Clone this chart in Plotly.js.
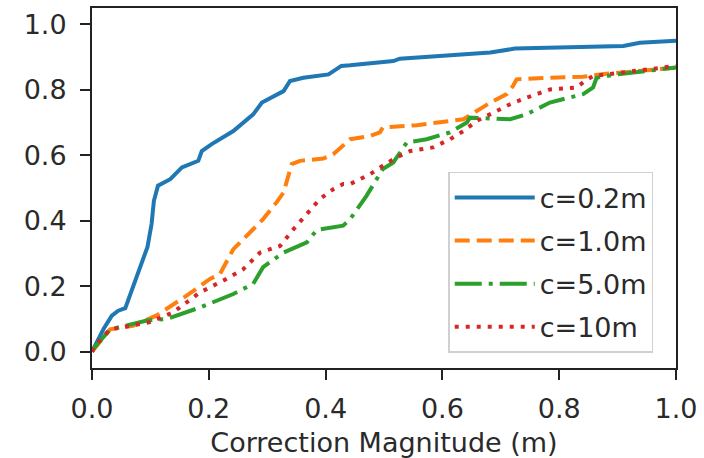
<!DOCTYPE html>
<html>
<head>
<meta charset="utf-8">
<script src="https://cdn.plot.ly/plotly-3.0.1.min.js"></script>
<style>html,body{margin:0;padding:0;background:#fff;}#chart{width:704px;height:458px;}</style>
</head>
<body>
<div id="chart"></div>
<script>
// Series names
const seriesNames = ["c=0.2m", "c=1.0m", "c=5.0m", "c=10m"];

// c=0.2m
const x02 = [0,0.008,0.02,0.034,0.045,0.057,0.068,0.078,0.088,0.095,0.102,0.106,0.113,0.134,0.154,0.182,0.188,0.205,0.242,0.276,0.291,0.328,0.339,0.362,0.405,0.427,0.442,0.516,0.527,0.682,0.724,0.910,0.938,1.0];
const y02 = [0,0.03,0.07,0.11,0.125,0.133,0.186,0.23,0.283,0.32,0.39,0.461,0.507,0.527,0.563,0.583,0.613,0.634,0.674,0.725,0.761,0.796,0.827,0.837,0.847,0.873,0.875,0.888,0.895,0.914,0.926,0.934,0.944,0.95];

// c=1.0m
const x10 = [0,0.014,0.031,0.07,0.11,0.162,0.202,0.219,0.242,0.276,0.293,0.316,0.328,0.342,0.356,0.396,0.413,0.442,0.476,0.493,0.498,0.556,0.636,0.682,0.710,0.721,0.727,0.784,0.841,0.870,1.0];
const y10 = [0,0.03,0.068,0.079,0.11,0.171,0.222,0.237,0.313,0.374,0.405,0.456,0.486,0.573,0.583,0.590,0.603,0.649,0.659,0.670,0.685,0.692,0.710,0.761,0.787,0.812,0.832,0.837,0.840,0.847,0.868];

// c=5.0m
const x50 = [0,0.002,0.031,0.059,0.094,0.128,0.145,0.185,0.242,0.276,0.293,0.328,0.368,0.385,0.430,0.442,0.470,0.498,0.516,0.527,0.539,0.573,0.613,0.642,0.647,0.716,0.744,0.784,0.841,0.858,0.864,0.898,1.0];
const y50 = [0,0.008,0.068,0.079,0.095,0.1,0.11,0.135,0.176,0.207,0.258,0.303,0.334,0.372,0.385,0.405,0.476,0.558,0.578,0.608,0.639,0.649,0.670,0.700,0.715,0.710,0.725,0.761,0.787,0.807,0.837,0.847,0.868];

// c=10m
const x100 = [0,0.006,0.031,0.07,0.099,0.139,0.185,0.230,0.259,0.288,0.322,0.345,0.368,0.390,0.413,0.430,0.442,0.476,0.498,0.521,0.545,0.584,0.613,0.636,0.659,0.687,0.716,0.744,0.784,0.830,0.844,0.858,1.0];
const y100 = [0,0.02,0.068,0.079,0.09,0.12,0.181,0.222,0.252,0.303,0.323,0.374,0.420,0.466,0.496,0.512,0.512,0.542,0.568,0.593,0.613,0.624,0.649,0.674,0.705,0.730,0.756,0.776,0.801,0.807,0.827,0.842,0.873];

// Axis ticks
const tickVals = [0, 0.2, 0.4, 0.6, 0.8, 1.0];
const tickText = ["0.0", "0.2", "0.4", "0.6", "0.8", "1.0"];

const xs = [x02, x10, x50, x100];
const ys = [y02, y10, y50, y100];
const colors = ["#1f77b4", "#ff7f0e", "#2ca02c", "#d62728"];
const dashes = ["solid", "15px,7px", "27px,7px,4px,7px", "4px,7px"];

const traces = seriesNames.map((n, i) => ({
  type: "scatter",
  mode: "lines",
  name: n,
  x: xs[i],
  y: ys[i],
  legendgroup: "g" + i,
  line: {color: colors[i], width: 4, dash: dashes[i]},
  hoverinfo: "x+y+name"
}));

const fontFam = "DejaVu Sans, sans-serif";
const textColor = "#2a2a2a";
const axisCommon = {
  showline: true, mirror: true, linecolor: "#222", linewidth: 2,
  ticks: "outside", ticklen: 10, tickwidth: 2, tickcolor: "#222",
  showgrid: false, zeroline: false,
  tickvals: tickVals, ticktext: tickText,
  tickfont: {family: fontFam, size: 27, color: textColor}
};

const layout = {
  width: 704, height: 458,
  margin: {l: 92, r: 28, t: 8, b: 90},
  paper_bgcolor: "#fff", plot_bgcolor: "#fff",
  showlegend: true,
  xaxis: Object.assign({}, axisCommon, {
    range: [0, 1],
    ticklabelstandoff: 6,
    title: {text: "Correction Magnitude (m)", font: {family: fontFam, size: 27, color: textColor}, standoff: 10}
  }),
  yaxis: Object.assign({}, axisCommon, {
    range: [-0.05, 1.05],
    ticklabelstandoff: 8
  }),
  legend: {
    x: 0.961, xanchor: "right", y: 0.042, yanchor: "bottom",
    bgcolor: "#fff", bordercolor: "#d0d0d0", borderwidth: 1.5,
    font: {family: fontFam, size: 27, color: textColor},
    traceorder: "grouped", tracegroupgap: 5,
    itemwidth: 80
  }
};

Plotly.newPlot("chart", traces, layout, {displayModeBar: false, staticPlot: false});
</script>
</body>
</html>
